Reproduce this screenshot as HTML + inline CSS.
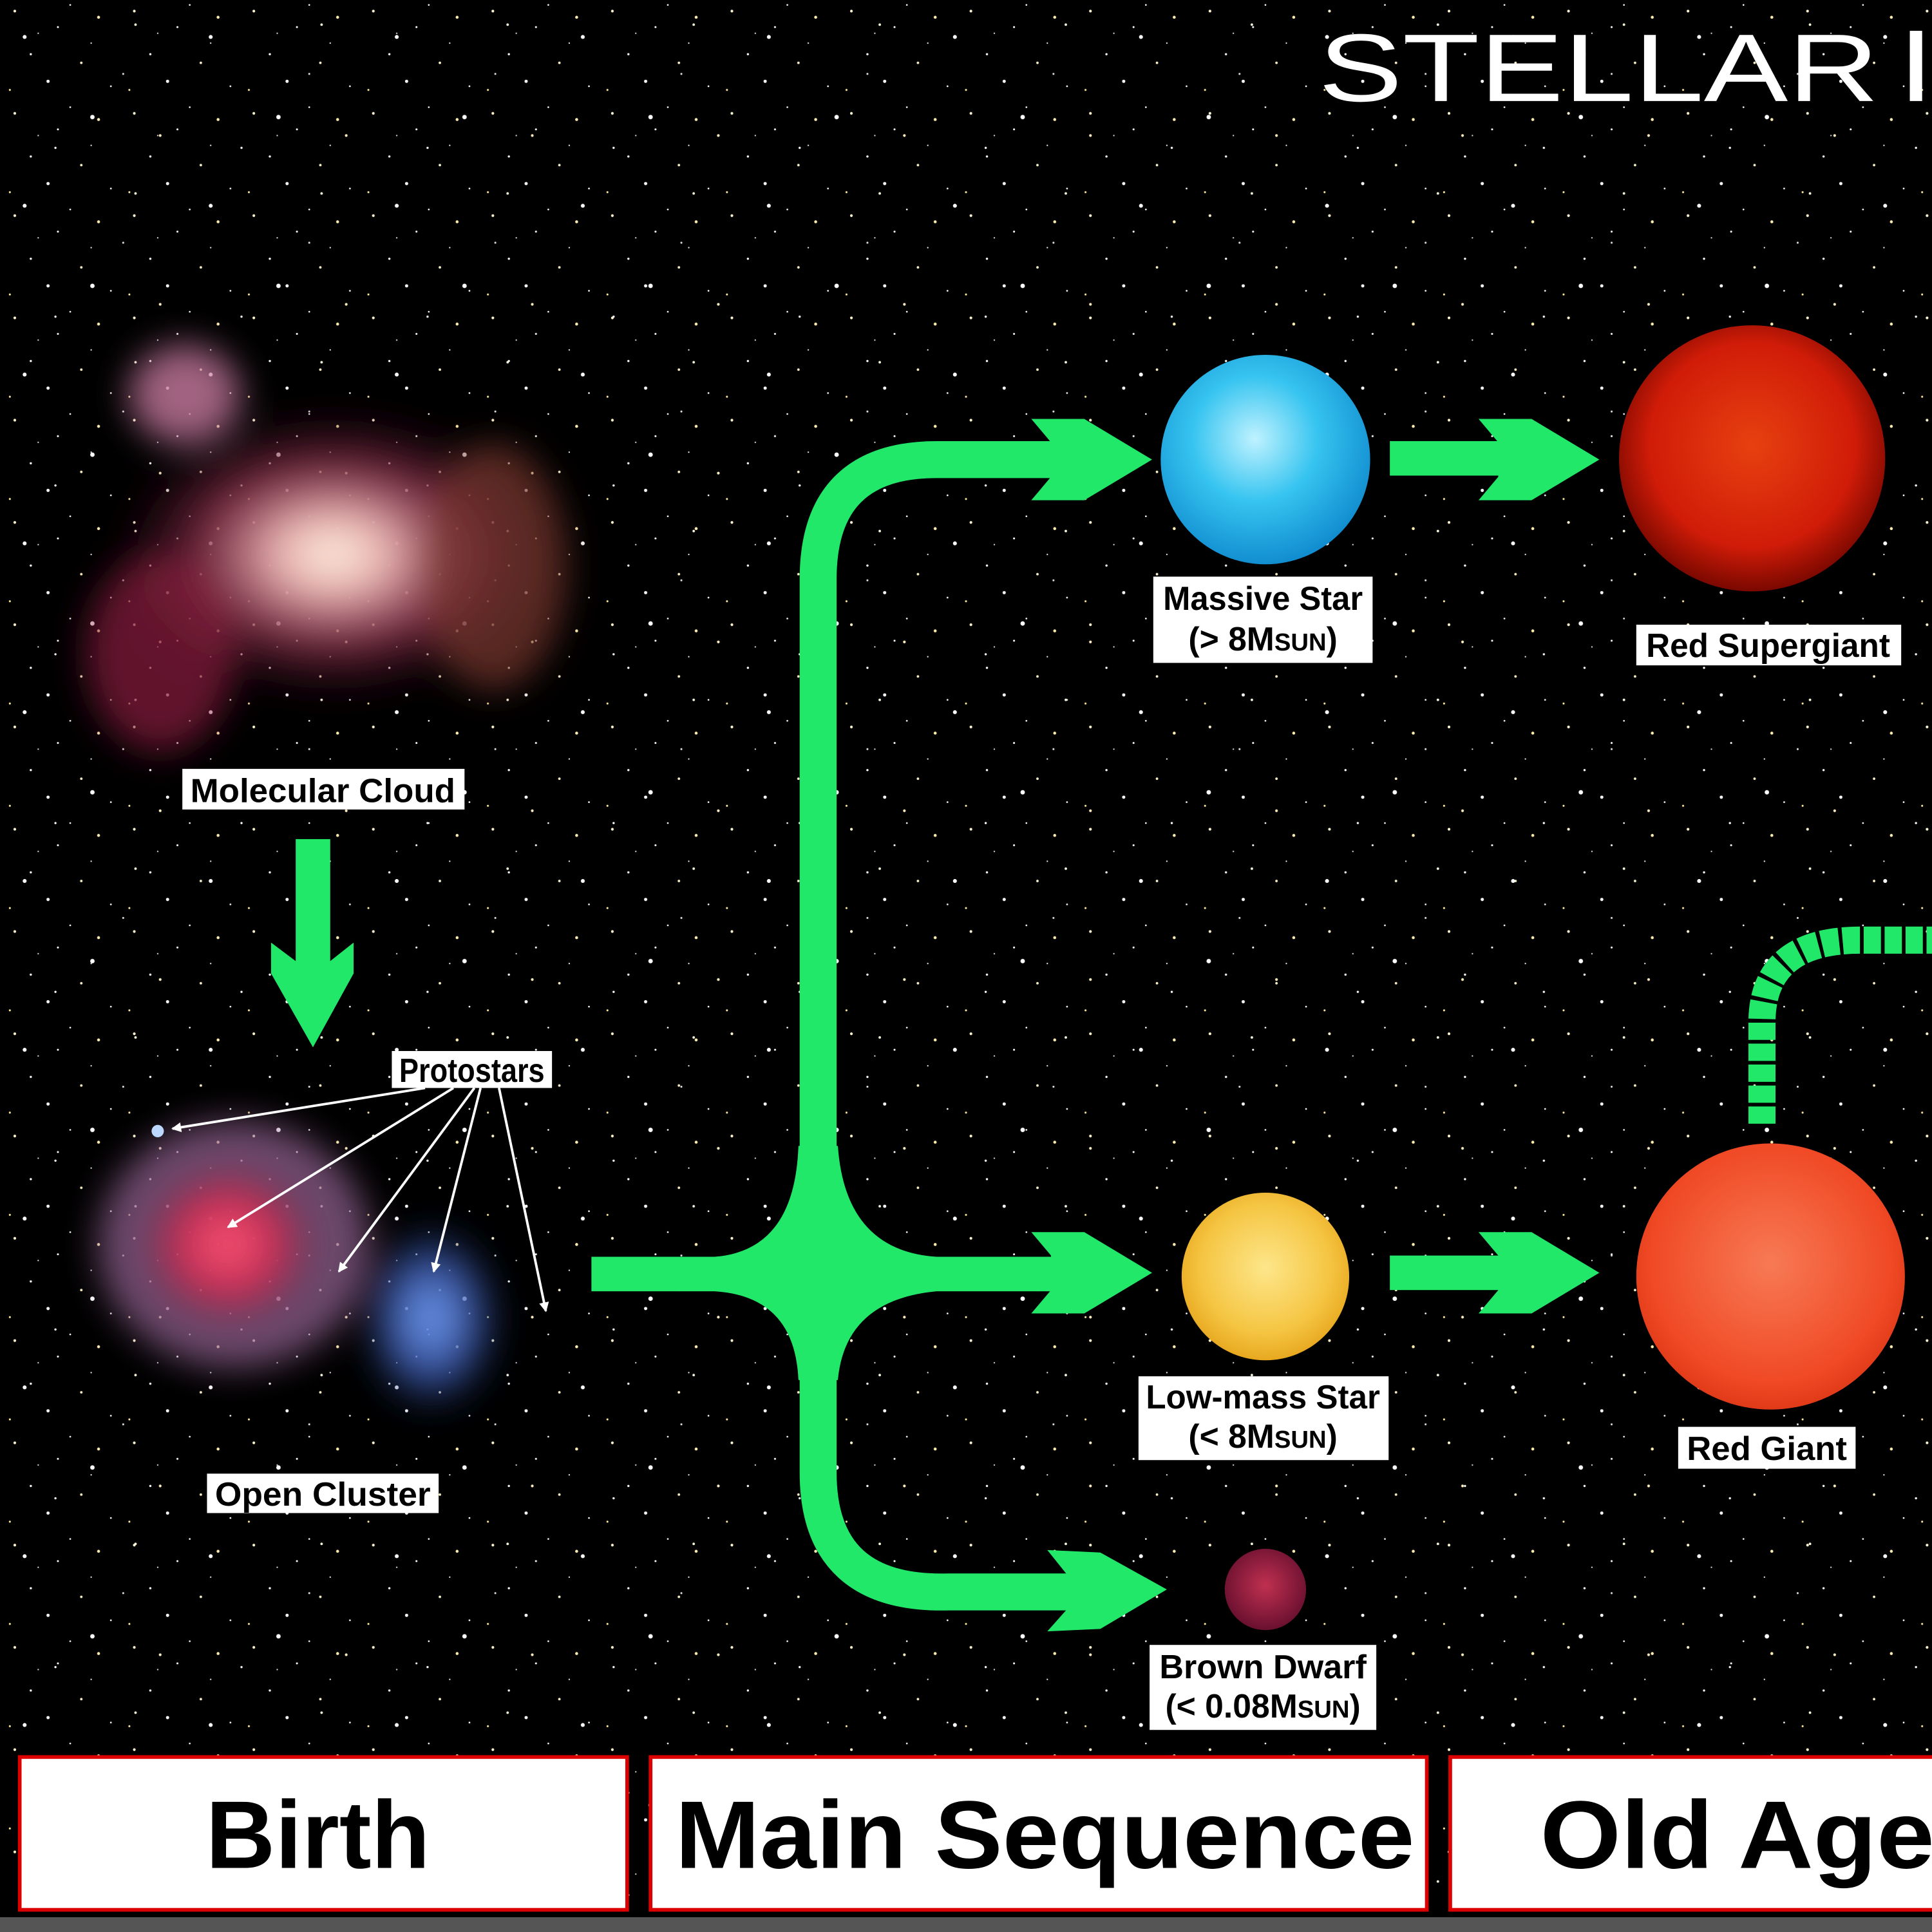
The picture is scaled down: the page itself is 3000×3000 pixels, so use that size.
<!DOCTYPE html>
<html><head><meta charset="utf-8"><style>
html,body{margin:0;padding:0;background:#000;}
svg{display:block;}
.lb{font-family:"Liberation Sans Narrow","Liberation Sans",sans-serif;font-weight:bold;font-size:27px;fill:#000;}
.bt{font-family:"Liberation Sans",sans-serif;font-weight:bold;font-size:78px;fill:#000;}
</style></head><body>
<svg width="3000" height="3000" viewBox="0 0 1568 1568" xmlns="http://www.w3.org/2000/svg">
<defs>
<pattern id="st1" width="97" height="83" patternUnits="userSpaceOnUse">
<circle cx="12" cy="9" r="1.1" fill="#fff6d0"/><circle cx="47" cy="22" r="0.8" fill="#fff"/><circle cx="80" cy="14" r="1.2" fill="#ffeeb0"/>
<circle cx="25" cy="44" r="0.9" fill="#fff"/><circle cx="66" cy="51" r="1" fill="#f8f0c8"/><circle cx="90" cy="70" r="0.7" fill="#fff"/>
<circle cx="8" cy="73" r="0.8" fill="#ffe9a0"/><circle cx="39" cy="66" r="1.3" fill="#fff"/><circle cx="57" cy="4" r="0.7" fill="#fff"/>
<circle cx="31" cy="27" r="0.6" fill="#ddd"/><circle cx="74" cy="35" r="0.6" fill="#eee"/>
</pattern>
<pattern id="st2" width="151" height="137" patternUnits="userSpaceOnUse">
<circle cx="20" cy="30" r="1.6" fill="#fff"/><circle cx="110" cy="20" r="1" fill="#fffbe0"/><circle cx="75" cy="95" r="1.8" fill="#fff"/>
<circle cx="130" cy="110" r="1.1" fill="#ffefc0"/><circle cx="45" cy="120" r="0.9" fill="#fff"/><circle cx="100" cy="60" r="0.8" fill="#ddd"/>
</pattern>
<radialGradient id="neb1" cx="50%" cy="50%" r="50%"><stop offset="0" stop-color="#fff4e0"/><stop offset="0.25" stop-color="#e8b0b0"/><stop offset="0.6" stop-color="#8a2c4a" stop-opacity="0.8"/><stop offset="1" stop-color="#300818" stop-opacity="0"/></radialGradient>
<radialGradient id="neb2" cx="50%" cy="50%" r="50%"><stop offset="0" stop-color="#ff5a7a"/><stop offset="0.5" stop-color="#d02850" stop-opacity="0.9"/><stop offset="1" stop-color="#402040" stop-opacity="0"/></radialGradient>
<radialGradient id="neb3" cx="50%" cy="50%" r="50%"><stop offset="0" stop-color="#7aa8ff"/><stop offset="0.6" stop-color="#3a58b0" stop-opacity="0.8"/><stop offset="1" stop-color="#102040" stop-opacity="0"/></radialGradient>
<radialGradient id="blue" cx="45%" cy="40%" r="60%"><stop offset="0" stop-color="#bff2ff"/><stop offset="0.5" stop-color="#36c4f0"/><stop offset="1" stop-color="#128ed0"/></radialGradient>
<radialGradient id="rsg" cx="50%" cy="45%" r="55%"><stop offset="0" stop-color="#e84010"/><stop offset="0.7" stop-color="#d01c08"/><stop offset="1" stop-color="#7a0800"/></radialGradient>
<radialGradient id="yel" cx="50%" cy="45%" r="55%"><stop offset="0" stop-color="#fde68a"/><stop offset="0.7" stop-color="#f5c542"/><stop offset="1" stop-color="#e8a820"/></radialGradient>
<radialGradient id="rg" cx="50%" cy="45%" r="55%"><stop offset="0" stop-color="#f77a55"/><stop offset="0.8" stop-color="#f04a26"/><stop offset="1" stop-color="#e03a18"/></radialGradient>
<radialGradient id="bd" cx="50%" cy="45%" r="55%"><stop offset="0" stop-color="#c03050"/><stop offset="1" stop-color="#6a1030"/></radialGradient>
<filter id="bl" x="-30%" y="-30%" width="160%" height="160%"><feGaussianBlur stdDeviation="14"/></filter>
<marker id="wa" markerWidth="8" markerHeight="8" refX="7" refY="4" orient="auto" markerUnits="userSpaceOnUse"><path d="M0,0 L8,4 L0,8 Z" fill="#fff"/></marker>
</defs>
<rect width="1568" height="1568" fill="#000"/>
<rect width="1568" height="1568" fill="url(#st1)"/>
<rect width="1568" height="1568" fill="url(#st2)"/>

<g filter="url(#bl)">
<ellipse cx="270" cy="450" rx="180" ry="120" fill="url(#neb1)"/>
<ellipse cx="150" cy="320" rx="45" ry="40" fill="#c87aa0" opacity="0.8"/>
<ellipse cx="130" cy="530" rx="60" ry="80" fill="#8a2040" opacity="0.7"/>
<ellipse cx="400" cy="460" rx="60" ry="100" fill="#7a3830" opacity="0.7"/>
</g>
<g filter="url(#bl)">
<ellipse cx="190" cy="1010" rx="110" ry="100" fill="#9a6a9a" opacity="0.7"/>
<ellipse cx="185" cy="1010" rx="80" ry="75" fill="url(#neb2)"/>
<ellipse cx="350" cy="1070" rx="60" ry="80" fill="url(#neb3)"/>
</g>
<circle cx="128" cy="918" r="5" fill="#bcd8ff"/>

<text x="1070" y="82" font-family="Liberation Sans,sans-serif" font-size="78" fill="#fff" textLength="455" lengthAdjust="spacingAndGlyphs">STELLAR</text>
<rect x="1550" y="25" width="10" height="57" fill="#fff"/>

<rect x="148" y="624" width="229" height="33" fill="#fff"/>
<text class="lb" x="262" y="651" text-anchor="middle" textLength="215" lengthAdjust="spacingAndGlyphs">Molecular Cloud</text>
<rect x="318" y="853" width="130" height="30" fill="#fff"/>
<text class="lb" x="383" y="878" text-anchor="middle" textLength="118" lengthAdjust="spacingAndGlyphs">Protostars</text>
<rect x="168" y="1196" width="188" height="32" fill="#fff"/>
<text class="lb" x="262" y="1222" text-anchor="middle" textLength="175" lengthAdjust="spacingAndGlyphs">Open Cluster</text>

<g stroke="#fff" stroke-width="2" fill="none" marker-end="url(#wa)">
<line x1="345" y1="883" x2="140" y2="916"/>
<line x1="368" y1="883" x2="185" y2="996"/>
<line x1="385" y1="883" x2="275" y2="1032"/>
<line x1="390" y1="883" x2="352" y2="1032"/>
<line x1="405" y1="883" x2="443" y2="1064"/>
</g>

<rect x="240" y="681" width="28" height="100" fill="#22e86a"/>
<path d="M220,765 L240,780 L268,780 L287,765 L287,790 L254,850 L220,790 Z" fill="#22e86a"/>

<g fill="#22e86a">
<path d="M480,1020 H580 Q645,1015 648,930 H680 Q686,1015 760,1020 H855 V1048 H760 Q686,1055 680,1120 H648 Q645,1052 580,1048 H480 Z"/>
</g>
<g stroke="#22e86a" stroke-width="30" fill="none">
<path d="M664,1000 V470 Q664,373 760,373 H860"/>
<path d="M664,1080 V1195 Q664,1295 770,1292 H870"/>
</g>
<g fill="#22e86a">
<path d="M837,340 L880,340 L935,373 L880,406 L837,406 L853,387 L853,359 Z"/>
<path d="M837,1000 L880,1000 L935,1033 L880,1066 L837,1066 L853,1047 L853,1019 Z"/>
<path d="M850,1258 L893,1260 L947,1290 L893,1322 L850,1324 L866,1306 L866,1278 Z"/>
<rect x="1128" y="358" width="100" height="28"/>
<path d="M1200,340 L1243,340 L1298,373 L1243,406 L1200,406 L1216,387 L1216,359 Z"/>
<rect x="1128" y="1019" width="100" height="28"/>
<path d="M1200,1000 L1243,1000 L1298,1033 L1243,1066 L1200,1066 L1216,1047 L1216,1019 Z"/>
</g>
<path d="M1430,912 V830 Q1430,763 1510,763 H1568" stroke="#22e86a" stroke-width="22" fill="none" stroke-dasharray="14,3"/>

<circle cx="1027" cy="373" r="85" fill="url(#blue)"/>
<circle cx="1422" cy="372" r="108" fill="url(#rsg)"/>
<circle cx="1027" cy="1036" r="68" fill="url(#yel)"/>
<ellipse cx="1437" cy="1036" rx="109" ry="108" fill="url(#rg)"/>
<circle cx="1027" cy="1290" r="33" fill="url(#bd)"/>

<rect x="936" y="468" width="178" height="70" fill="#fff"/>
<text class="lb" x="1025" y="495" text-anchor="middle" textLength="162" lengthAdjust="spacingAndGlyphs">Massive Star</text>
<text class="lb" x="1025" y="528" text-anchor="middle">(&gt; 8M<tspan font-size="20">SUN</tspan>)</text>
<rect x="1328" y="507" width="215" height="33" fill="#fff"/>
<text class="lb" x="1435" y="533" text-anchor="middle" textLength="198" lengthAdjust="spacingAndGlyphs">Red Supergiant</text>
<rect x="924" y="1117" width="203" height="68" fill="#fff"/>
<text class="lb" x="1025" y="1143" text-anchor="middle" textLength="190" lengthAdjust="spacingAndGlyphs">Low-mass Star</text>
<text class="lb" x="1025" y="1175" text-anchor="middle">(&lt; 8M<tspan font-size="20">SUN</tspan>)</text>
<rect x="1362" y="1158" width="144" height="34" fill="#fff"/>
<text class="lb" x="1434" y="1185" text-anchor="middle" textLength="130" lengthAdjust="spacingAndGlyphs">Red Giant</text>
<rect x="933" y="1335" width="184" height="69" fill="#fff"/>
<text class="lb" x="1025" y="1362" text-anchor="middle" textLength="168" lengthAdjust="spacingAndGlyphs">Brown Dwarf</text>
<text class="lb" x="1025" y="1394" text-anchor="middle">(&lt; 0.08M<tspan font-size="20">SUN</tspan>)</text>

<rect x="16" y="1426" width="493" height="124" fill="#fff" stroke="#d00" stroke-width="3"/>
<text class="bt" x="258" y="1516" text-anchor="middle">Birth</text>
<rect x="528" y="1426" width="630" height="124" fill="#fff" stroke="#d00" stroke-width="3"/>
<text class="bt" x="848" y="1516" text-anchor="middle" textLength="600" lengthAdjust="spacingAndGlyphs">Main Sequence</text>
<rect x="1177" y="1426" width="400" height="124" fill="#fff" stroke="#d00" stroke-width="3"/>
<text class="bt" x="1250" y="1516" textLength="320" lengthAdjust="spacingAndGlyphs">Old Age</text>
<rect x="0" y="1556" width="1568" height="12" fill="#555"/>
</svg>
</body></html>
